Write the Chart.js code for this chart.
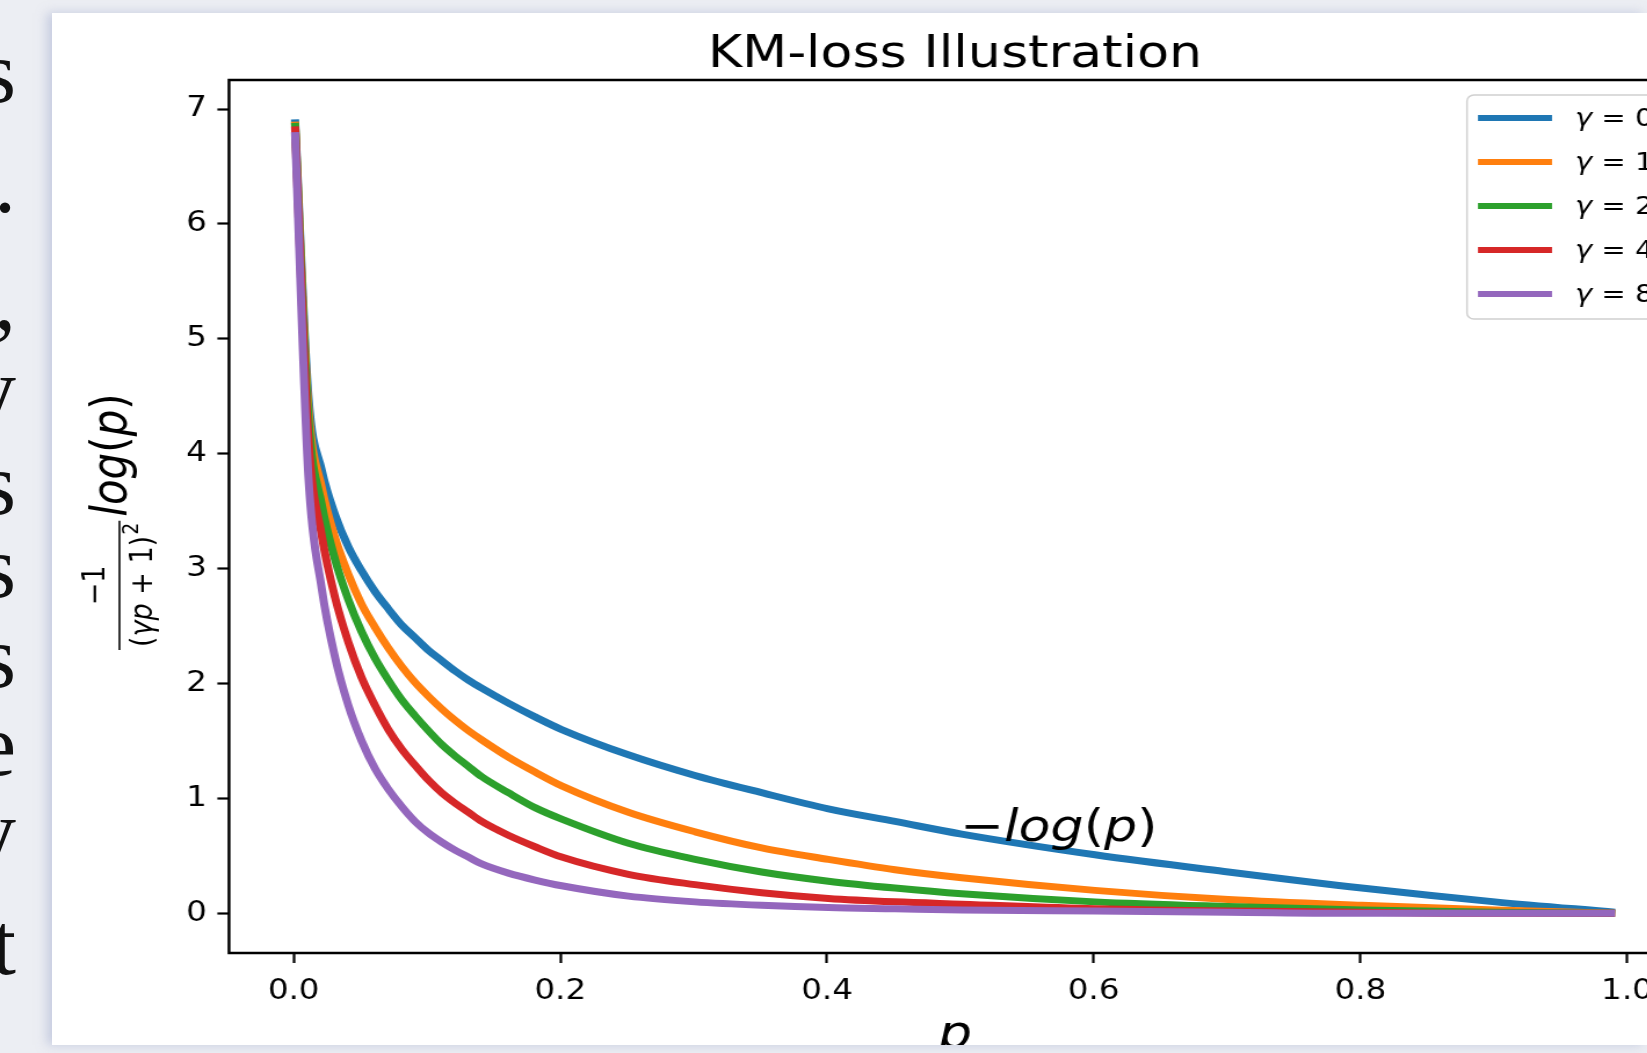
<!DOCTYPE html>
<html>
<head>
<meta charset="utf-8">
<script src="https://cdn.jsdelivr.net/npm/chart.js@4.4.1/dist/chart.umd.min.js"></script>
<style>
  html, body { margin: 0; padding: 0; width: 1647px; height: 1053px; overflow: hidden; background: #eceef3; position: relative; }
  #panel { position: absolute; left: 52px; top: 13px; width: 1595px; height: 1032px; background: #fff;
           box-shadow: -5px 0 10px rgba(160, 170, 205, 0.5); }
  .edge { position: absolute; right: 1631px; font-family: "Liberation Serif", "Times New Roman", "DejaVu Serif", serif;
          font-size: 88px; line-height: 88px; color: #111; white-space: nowrap; }
  #wrap { position: absolute; left: 0; top: 0; width: 1500px; height: 1045px; overflow: visible;
          transform: scaleX(1.16); transform-origin: 0 0; }
  #box { position: absolute; left: 0; top: 0; width: 1647px; height: 1045px; overflow: hidden; }
</style>
</head>
<body>
<div class="edge" style="top:29px">s</div>
<div class="edge" style="top:139px">.</div>
<div class="edge" style="top:256px">,</div>
<div class="edge" style="top:346px">y</div>
<div class="edge" style="top:441px">s</div>
<div class="edge" style="top:524px">s</div>
<div class="edge" style="top:614px">s</div>
<div class="edge" style="top:702px">e</div>
<div class="edge" style="top:788px">y</div>
<div class="edge" style="top:901px">t</div>
<div id="panel"></div>
<div id="box">
  <div id="wrap"><canvas id="myChart" width="1500" height="1045"></canvas></div>
</div>
<script>
// values
const pValues = [0.001, 0.011, 0.021, 0.031, 0.041, 0.051, 0.061, 0.071, 0.081, 0.091, 0.101, 0.111, 0.121, 0.131,
                 0.141, 0.161, 0.181, 0.201, 0.251, 0.301, 0.351, 0.401, 0.451, 0.501, 0.601, 0.701, 0.801, 0.901, 0.991];
const lossG0 = [6.91, 4.51, 3.86, 3.47, 3.19, 2.98, 2.80, 2.65, 2.51, 2.40, 2.29, 2.20, 2.11, 2.03,
                1.96, 1.83, 1.71, 1.60, 1.38, 1.20, 1.05, 0.91, 0.80, 0.69, 0.51, 0.36, 0.22, 0.10, 0.01];
const lossG1 = [6.89, 4.41, 3.71, 3.27, 2.95, 2.69, 2.49, 2.31, 2.15, 2.01, 1.89, 1.78, 1.68, 1.59,
                1.51, 1.36, 1.23, 1.11, 0.88, 0.71, 0.57, 0.47, 0.38, 0.31, 0.20, 0.12, 0.07, 0.03, 0.00];
const lossG2 = [6.88, 4.32, 3.56, 3.08, 2.73, 2.45, 2.22, 2.03, 1.86, 1.72, 1.59, 1.47, 1.37, 1.28,
                1.19, 1.05, 0.92, 0.82, 0.61, 0.47, 0.36, 0.28, 0.22, 0.17, 0.10, 0.06, 0.03, 0.01, 0.00];
const lossG4 = [6.85, 4.14, 3.29, 2.75, 2.36, 2.05, 1.81, 1.60, 1.43, 1.29, 1.16, 1.05, 0.96, 0.88,
                0.80, 0.68, 0.58, 0.49, 0.34, 0.25, 0.18, 0.13, 0.10, 0.08, 0.04, 0.02, 0.01, 0.00, 0.00];
const lossG8 = [6.80, 3.81, 2.83, 2.23, 1.81, 1.50, 1.26, 1.08, 0.93, 0.80, 0.70, 0.62, 0.55, 0.49,
                0.43, 0.35, 0.29, 0.24, 0.15, 0.10, 0.07, 0.05, 0.04, 0.03, 0.02, 0.01, 0.00, 0.00, 0.00];
const gammaLabels = ["0", "1", "2", "4", "8"];
const xTickValues = [0, 0.2, 0.4, 0.6, 0.8, 1.0];
const yTickValues = [0, 1, 2, 3, 4, 5, 6, 7];

const colors = ["#1f77b4", "#ff7f0e", "#2ca02c", "#d62728", "#9467bd"];
const allLosses = [lossG0, lossG1, lossG2, lossG4, lossG8];
const SX = 1.16;               // the reference is stretched sideways
const FONT = '"DejaVu Sans"';
const ctx = document.querySelector("#myChart");

// draw pieces of a math string: [text, italic]
function drawMath(c, parts, x, y, size) {
    let cx = x;
    parts.forEach(([t, it]) => {
        c.font = (it ? "italic " : "") + size + "px " + FONT;
        c.fillText(t, cx, y);
        cx += c.measureText(t).width;
    });
    return cx - x;
}
function mathWidth(c, parts, size) {
    let w = 0;
    parts.forEach(([t, it]) => {
        c.font = (it ? "italic " : "") + size + "px " + FONT;
        w += c.measureText(t).width;
    });
    return w;
}

const decor = {
    id: "decor",
    afterDraw(chart) {
        const c = chart.ctx;
        const a = chart.chartArea;
        const xs = chart.scales.x, ys = chart.scales.y;
        c.save();
        c.fillStyle = "#000";
        c.strokeStyle = "#000";

        // frame
        c.lineWidth = 2.5;
        c.strokeRect(a.left, a.top, a.right - a.left, a.bottom - a.top);

        // title
        c.font = "45px " + FONT;
        c.textAlign = "left";
        c.textBaseline = "alphabetic";
        const title = "KM-loss Illustration";
        c.fillText(title, (a.left + a.right) / 2 - c.measureText(title).width / 2, 67);

        // annotation
        drawMath(c, [["\u2212", false], ["log", true], ["(", false], ["p", true], [")", false]],
                 xs.getPixelForValue(0.5), ys.getPixelForValue(0.63), 45);

        // x label
        c.font = "italic 46px " + FONT;
        c.textAlign = "center";
        c.fillText("p", (a.left + a.right) / 2, 1048);
        c.textAlign = "left";

        // y label (rotated)
        c.save();
        c.translate(109, 650);
        c.rotate(-Math.PI / 2);
        const f2 = 27;
        const den = [["(", false], ["\u03b3p", true], [" + ", false], ["1", false], [")", false]];
        const denW = mathWidth(c, den, f2);
        c.font = Math.round(f2 * 0.7) + "px " + FONT;
        const supW = c.measureText("2").width;
        const num = [["\u2212", false], ["1", false]];
        const numW = mathWidth(c, num, f2);
        const fracW = Math.max(denW + supW, numW) + 6;
        c.lineWidth = 1.6;
        c.beginPath();
        c.moveTo(0, -6);
        c.lineTo(fracW, -6);
        c.stroke();
        drawMath(c, num, (fracW - numW) / 2, -19, f2);
        const dx = (fracW - denW - supW) / 2;
        drawMath(c, den, dx, 22, f2);
        c.font = Math.round(f2 * 0.7) + "px " + FONT;
        c.fillText("2", dx + denW + 1, 10);
        drawMath(c, [["log", true], ["(", false], ["p", true], [")", false]], fracW + 4, 0, 42);
        c.restore();

        // legend
        const lx = 1467 / SX, ly = 95;
        c.beginPath();
        c.roundRect(lx, ly, 330, 224, 6);
        c.fillStyle = "rgba(255,255,255,0.8)";
        c.fill();
        c.lineWidth = 1.5;
        c.strokeStyle = "#d0d0d0";
        c.stroke();
        gammaLabels.forEach((g, i) => {
            const ry = 118 + i * 44;
            c.strokeStyle = colors[i];
            c.lineWidth = 6;
            c.lineCap = "butt";
            c.beginPath();
            c.moveTo(1478 / SX, ry);
            c.lineTo(1552 / SX, ry);
            c.stroke();
            c.fillStyle = "#000";
            c.textBaseline = "middle";
            drawMath(c, [["\u03b3", true], [" = ", false], [g, false]], 1575 / SX, ry + 1, 25);
        });
        c.restore();
    }
};

new Chart(ctx, {
    type: "line",
    data: {
        datasets: allLosses.map((loss, i) => ({
            label: "\u03b3 = " + gammaLabels[i],
            data: pValues.map((p, k) => ({ x: p, y: loss[k] })),
            borderColor: colors[i],
            backgroundColor: colors[i],
            borderWidth: 7,
            pointRadius: 0,
            fill: false,
            cubicInterpolationMode: "monotone",
            borderCapStyle: "butt",
            borderJoinStyle: "round",
            order: 5 - i
        }))
    },
    options: {
        responsive: false,
        animation: false,
        layout: { padding: { top: 80, right: 1500 - 1681 / SX, bottom: 0, left: 0 } },
        plugins: { legend: { display: false }, tooltip: { enabled: false } },
        scales: {
            x: {
                type: "linear",
                min: -0.0485,
                max: 1.0405,
                afterFit: (s) => { s.height = 92; },
                afterBuildTicks: (s) => { s.ticks = xTickValues.map(v => ({ value: v })); },
                ticks: {
                    callback: (v) => v.toFixed(1),
                    font: { family: "DejaVu Sans", size: 28 },
                    color: "#000",
                    padding: 12,
                    maxRotation: 0
                },
                grid: { drawOnChartArea: false, drawTicks: true, tickLength: 10, tickColor: "#000", tickWidth: 2.2 },
                border: { display: false }
            },
            y: {
                type: "linear",
                min: -0.345,
                max: 7.253,
                afterFit: (s) => { s.width = 229 / SX; },
                afterBuildTicks: (s) => { s.ticks = yTickValues.map(v => ({ value: v })); },
                ticks: {
                    font: { family: "DejaVu Sans", size: 28 },
                    color: "#000",
                    padding: 9
                },
                grid: { drawOnChartArea: false, drawTicks: true, tickLength: 10, tickColor: "#000", tickWidth: 2.2 },
                border: { display: false }
            }
        }
    },
    plugins: [decor]
});
</script>
</body>
</html>
